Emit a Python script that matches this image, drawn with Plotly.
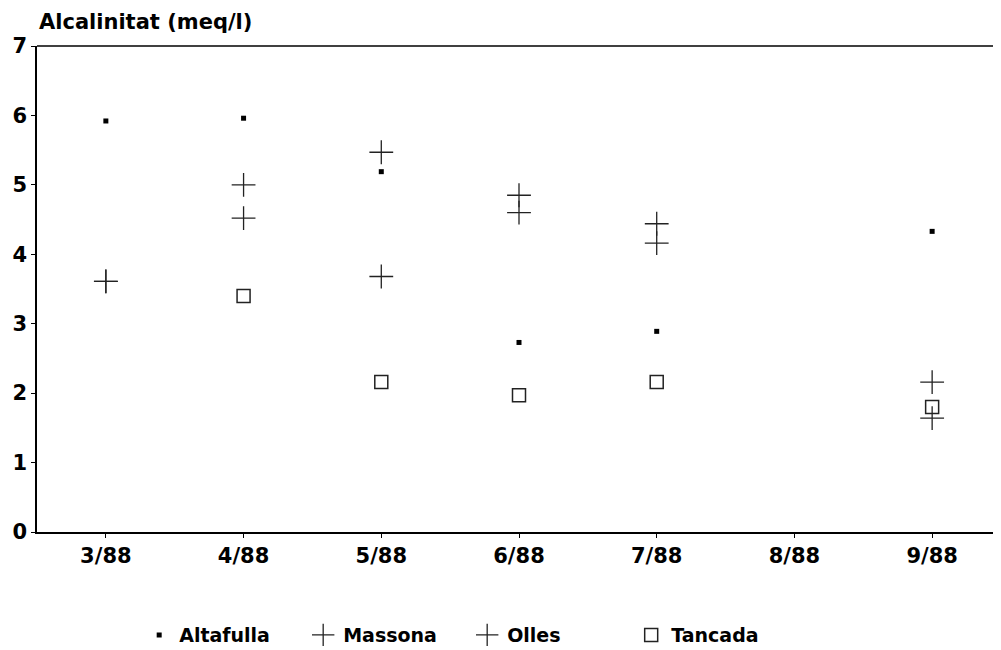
import plotly.graph_objects as go

months = ["3/88", "4/88", "5/88", "6/88", "7/88", "8/88", "9/88"]
xpos = [3, 4, 5, 6, 7, 8, 9]

alt_x = [3, 4, 5, 6, 7, 9]
altafulla = [5.92, 5.96, 5.19, 2.73, 2.89, 4.33]

mas_x = [3, 4, 5, 6, 7, 9]
massona = [3.61, 5.00, 5.47, 4.60, 4.44, 2.16]

oll_x = [3, 4, 5, 6, 7, 9]
olles = [3.61, 4.52, 3.68, 4.85, 4.16, 1.64]

tan_x = [4, 5, 6, 7, 9]
tancada = [3.40, 2.16, 1.97, 2.16, 1.80]

font = "DejaVu Sans, Liberation Sans, sans-serif"
ink = "#222222"

fig = go.Figure()
fig.add_trace(go.Scatter(x=alt_x, y=altafulla, mode="markers", name="Altafulla",
                         marker=dict(symbol="square", size=5, color="black",
                                     line=dict(width=0))))
fig.add_trace(go.Scatter(x=mas_x, y=massona, mode="markers", name="Massona",
                         marker=dict(symbol="cross-thin-open", size=17, color=ink,
                                     line=dict(color=ink, width=1.3))))
fig.add_trace(go.Scatter(x=oll_x, y=olles, mode="markers", name="Olles",
                         marker=dict(symbol="cross-thin-open", size=17, color=ink,
                                     line=dict(color=ink, width=1.3))))
fig.add_trace(go.Scatter(x=tan_x, y=tancada, mode="markers", name="Tancada",
                         marker=dict(symbol="square-open", size=13, color=ink,
                                     line=dict(color=ink, width=1.5))))

fig.update_layout(
    width=993, height=642,
    margin=dict(l=29, r=0, t=38, b=118, autoexpand=False),
    paper_bgcolor="white", plot_bgcolor="white",
    font=dict(family=font, size=20, color="black", weight="bold"),
    showlegend=True,
    legend=dict(orientation="h", x=0.106, xanchor="left", y=-0.212, yanchor="middle",
                font=dict(size=19, family=font, weight="bold"), entrywidth=119,
                entrywidthmode="pixels", itemwidth=30, tracegroupgap=0),
    xaxis=dict(range=[2.5, 9.5], tickvals=xpos, ticktext=months, automargin=False,
               showgrid=False, zeroline=False, showline=True, linecolor="black",
               linewidth=1.5, mirror=False, ticks="outside", ticklen=4,
               tickcolor="black", tickfont=dict(size=21, family=font, weight="bold")),
    yaxis=dict(range=[0, 7], tickvals=[0, 1, 2, 3, 4, 5, 6, 7], automargin=False,
               showgrid=False, zeroline=False, showline=True, linecolor="black",
               linewidth=1.5, ticks="outside", ticklen=4, tickcolor="black",
               tickfont=dict(size=21, family=font, weight="bold")),
    shapes=[dict(type="line", xref="paper", yref="paper", x0=0, x1=1, y0=1, y1=1,
                 line=dict(color="black", width=1.5))],
    annotations=[dict(text="Alcalinitat (meq/l)", xref="paper", yref="paper",
                      x=0, y=1, xanchor="left", yanchor="bottom", yshift=10,
                      showarrow=False,
                      font=dict(size=21, family=font, weight="bold"))],
)

fig.write_html("out.html")
